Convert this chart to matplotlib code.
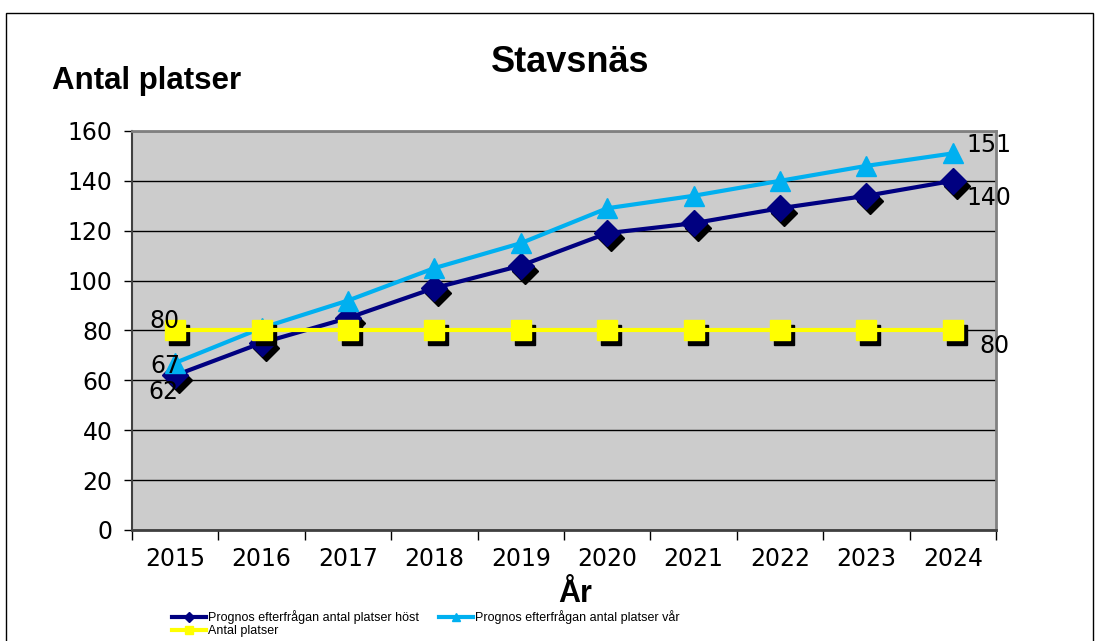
import matplotlib
matplotlib.use("Agg")
import matplotlib.pyplot as plt
import matplotlib.transforms as mtransforms
from matplotlib.patches import Rectangle

# data
years = ["2015", "2016", "2017", "2018", "2019", "2020", "2021", "2022", "2023", "2024"]
host = [62, 75, 85, 97, 106, 119, 123, 129, 134, 140]
var = [67, 81, 92, 105, 115, 129, 134, 140, 146, 151]
antal = [80, 80, 80, 80, 80, 80, 80, 80, 80, 80]

navy = "#000080"
light = "#00B0F0"
yellow = "#FFFF00"

fig = plt.figure(figsize=(10.98, 6.41), dpi=100)
ax = fig.add_axes([0.1202, 0.1732, 0.7869, 0.6225])
ax.set_facecolor("#CCCCCC")

x = list(range(len(years)))
shadow = mtransforms.offset_copy(ax.transData, fig=fig, x=4, y=-5, units="dots")

# höst
ax.plot(x, host, ls="none", marker="D", ms=13, color="black", transform=shadow, zorder=3)
ax.plot(x, host, color=navy, lw=3, marker="D", ms=13, zorder=4,
        label="Prognos efterfrågan antal platser höst")
# vår
ax.plot(x, var, color=light, lw=3, marker="^", ms=15, zorder=5,
        label="Prognos efterfrågan antal platser vår")
# antal
ax.plot(x, antal, ls="none", marker="s", ms=14, color="black", transform=shadow, zorder=6)
ax.plot(x, antal, color=yellow, lw=3, marker="s", ms=14, zorder=7,
        label="Antal platser")

ax.set_xlim(-0.5, len(years) - 0.5)
ax.set_ylim(0, 160)
ax.set_yticks(range(0, 161, 20))
ax.set_xticks(x)
ax.set_xticklabels(years)
ax.set_xticks([i - 0.5 for i in range(len(years) + 1)], minor=True)
ax.tick_params(axis="x", which="major", length=0, pad=12, labelsize=17)
ax.tick_params(axis="x", which="minor", length=7, width=1, direction="out")
ax.tick_params(axis="y", length=6, width=1, direction="out", labelsize=17, pad=8)
ax.grid(axis="y", color="black", lw=1)
ax.set_axisbelow(True)
for s in ["top", "right"]:
    ax.spines[s].set_color("#808080")
    ax.spines[s].set_linewidth(2)
ax.spines["left"].set_color("#404040")
ax.spines["left"].set_linewidth(1.5)
ax.spines["bottom"].set_color("#404040")
ax.spines["bottom"].set_linewidth(2)

# data labels
lab = dict(fontsize=17, textcoords="offset points", zorder=8)
ax.annotate(str(host[0]), (0, host[0]), xytext=(2, -12), ha="right", va="center", **lab)
ax.annotate(str(var[0]), (0, var[0]), xytext=(4, -2), ha="right", va="center", **lab)
ax.annotate(str(antal[0]), (0, antal[0]), xytext=(3, 7), ha="right", va="center", **lab)
ax.annotate(str(var[-1]), (9, var[-1]), xytext=(10, 6), ha="left", va="center", **lab)
ax.annotate(str(host[-1]), (9, host[-1]), xytext=(10, -12), ha="left", va="center", **lab)
ax.annotate(str(antal[-1]), (9, antal[-1]), xytext=(19, -11), ha="left", va="center", **lab)

fig.text(0.519, 0.902, "Stavsnäs", ha="center", va="center", fontsize=26,
         fontweight="bold", family="Liberation Sans")
fig.text(0.047, 0.873, "Antal platser", ha="left", va="center", fontsize=22.5,
         fontweight="bold", family="Liberation Sans")
fig.text(0.524, 0.073, "År", ha="center", va="center", fontsize=22,
         fontweight="bold", family="Liberation Sans")

h, l = ax.get_legend_handles_labels()
order = [0, 2, 1]
fig.legend([h[i] for i in order], [l[i] for i in order], ncol=2, loc="upper left",
           bbox_to_anchor=(0.157, 0.048), frameon=False, markerscale=0.4,
           prop={"family": "Liberation Sans", "size": 9}, handlelength=2.7,
           handletextpad=0.15, columnspacing=1.6, labelspacing=0.1, borderaxespad=0,
           borderpad=0)

fig.patches.append(Rectangle((0.0055, -0.01), 0.990, 0.99, transform=fig.transFigure,
                             fill=False, edgecolor="black", lw=1))

fig.savefig("out.png", dpi=100)
